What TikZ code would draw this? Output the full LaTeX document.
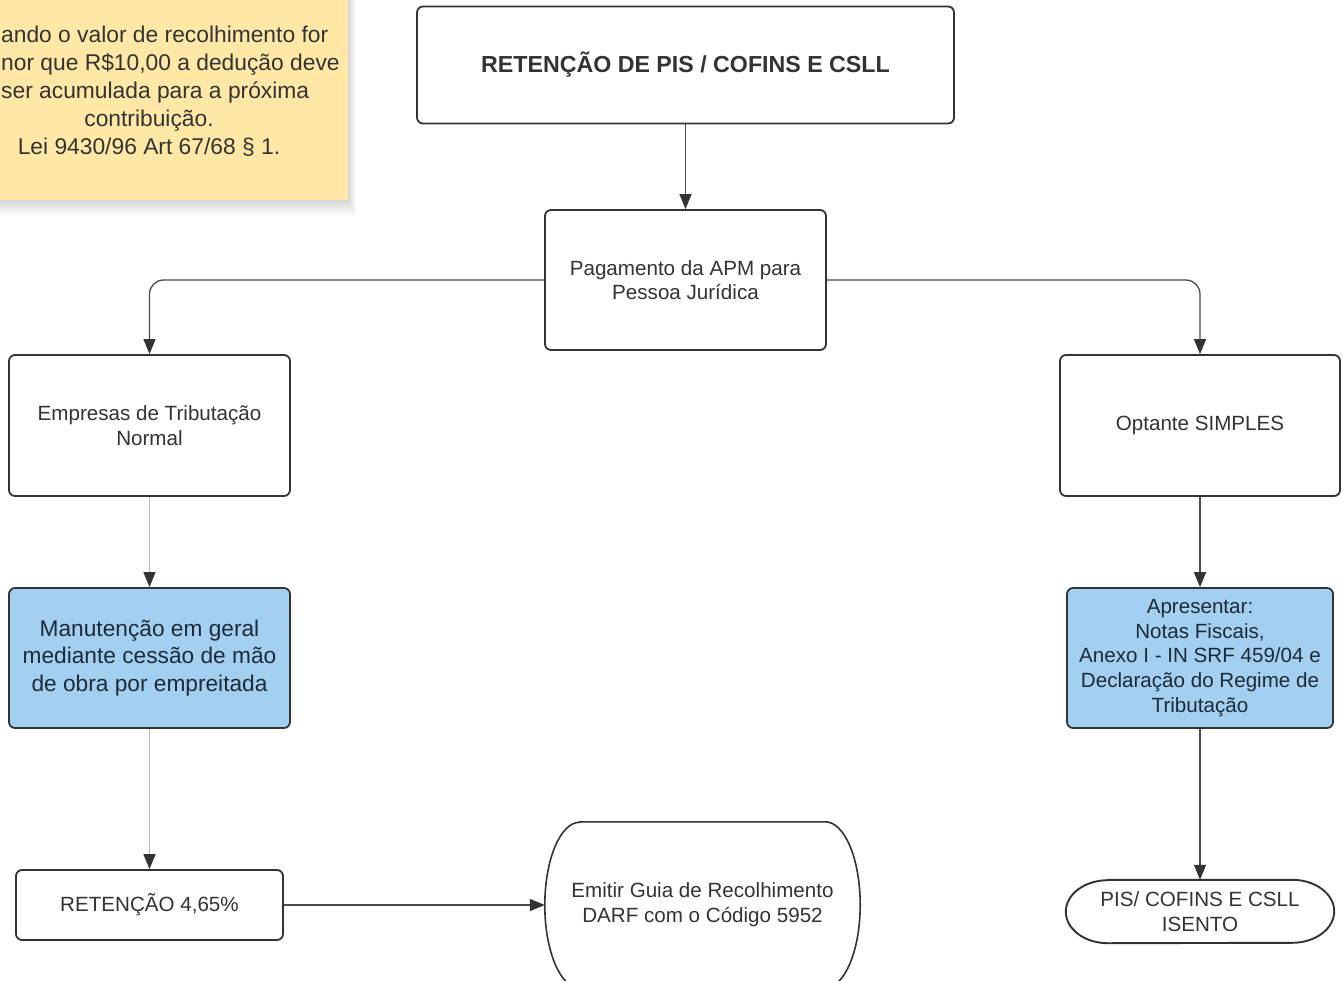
\documentclass[tikz,border=0pt]{standalone}
\usepackage{fontspec}
\setmainfont{Liberation Sans}
\usetikzlibrary{arrows.meta,calc}
\definecolor{txt}{HTML}{333333}
\definecolor{navytxt}{HTML}{1E2A38}
\definecolor{bluefill}{HTML}{A3D0F0}
\definecolor{notefill}{HTML}{FFE8A6}
\definecolor{edge}{HTML}{333333}
\definecolor{lightline}{HTML}{B5B5B5}
\definecolor{darkline}{HTML}{4A4A4A}
\begin{document}
\begin{tikzpicture}[x=1pt,y=1pt,
 box/.style={rectangle, rounded corners=6pt, draw=edge, line width=1.8pt, fill=white, text=txt, align=center, font=\fontsize{20.6}{24.7}\selectfont, inner sep=0pt},
 bluebox/.style={box, fill=bluefill, text=navytxt},
 plain/.style={rectangle, draw=none, text=txt, align=center, font=\fontsize{20.6}{24.7}\selectfont, inner sep=0pt},
 notetxt/.style={plain, font=\fontsize{22.8}{27.75}\selectfont},
 outline/.style={draw=edge, line width=1.6pt},
 arr/.style={-{Triangle[length=15pt,width=12pt,color=edge]}, line width=1.3pt, draw=darkline},
 lightarr/.style={arr, draw=lightline},
]
\useasboundingbox (0,0) rectangle (1343,-981);
\clip (0,0) rectangle (1343,-981);
\fill[white] (0,0) rectangle (1343,-981);
% sticky note with soft shadow
\foreach \i in {1,...,8} \fill[black, opacity=0.018] (-60,0) rectangle (348+\i,-200-2*\i);
\fill[notefill] (-60,0) rectangle (348,-200);
\node[notetxt, anchor=base west] (note1) at (1,-43) {ando o valor de recolhimento for};
\node[notetxt, anchor=base west] (note2) at (1,-71) {nor que R\$10,00 a dedução deve};
\node[notetxt, anchor=base west] (note3) at (1,-99) {ser acumulada para a próxima};
\node[notetxt, anchor=base] (note4) at (149,-127) {contribuição.};
\node[notetxt, anchor=base] (note5) at (149,-155) {Lei 9430/96 Art 67/68 \S{} 1.};

% nodes
\node[box, minimum width=537, minimum height=117, font=\fontsize{23.2}{27.8}\selectfont\bfseries] (title) at (685.5,-65) {RETENÇÃO DE PIS / COFINS E CSLL};
\node[box, minimum width=281, minimum height=140] (pag) at (685.5,-280) {Pagamento da APM para\\Pessoa Jurídica};
\node[box, minimum width=281, minimum height=141] (emp) at (149.5,-425.5) {Empresas de Tributação\\Normal};
\node[bluebox, minimum width=281, minimum height=140, font=\fontsize{22.7}{27.7}\selectfont] (man) at (149.5,-658) {Manutenção em geral\\mediante cessão de mão\\de obra por empreitada};
\node[box, minimum width=267, minimum height=70] (ret) at (149.5,-905) {RETENÇÃO 4,65\%};
\node[plain, minimum width=315, minimum height=166] (emit) at (702.5,-905) {Emitir Guia de Recolhimento\\DARF com o Código 5952};
\draw[outline] ($(emit.north west)+(35,0)$) -- ($(emit.north east)+(-35,0)$)
  arc[start angle=90,end angle=-90,x radius=35,y radius=83]
  -- ($(emit.south west)+(35,0)$)
  arc[start angle=270,end angle=90,x radius=35,y radius=83] -- cycle;
\node[box, minimum width=280, minimum height=141] (opt) at (1200,-425.5) {Optante SIMPLES};
\node[bluebox, minimum width=266, minimum height=140] (apres) at (1200,-658) {Apresentar:\\Notas Fiscais,\\Anexo I - IN SRF 459/04 e\\Declaração do Regime de\\Tributação};
\node[plain, minimum width=268, minimum height=63] (pis) at (1200,-911.5) {PIS/ COFINS E CSLL\\ISENTO};
\draw[outline, line width=1.9pt] ($(pis.north west)+(42,0)$) -- ($(pis.north east)+(-42,0)$)
  arc[start angle=90,end angle=-90,x radius=42,y radius=31.5]
  -- ($(pis.south west)+(42,0)$)
  arc[start angle=270,end angle=90,x radius=42,y radius=31.5] -- cycle;

% connectors
\draw[arr] (title) -- (pag);
\draw[arr, rounded corners=14pt] (pag.west) -| (emp.north);
\draw[arr, rounded corners=14pt] (pag.east) -| (opt.north);
\draw[lightarr] (emp) -- (man);
\draw[lightarr] (man) -- (ret);
\draw[arr] (ret) -- (emit.west);
\draw[arr] (opt) -- (apres);
\draw[arr] (apres) -- (pis);
\end{tikzpicture}
\end{document}
